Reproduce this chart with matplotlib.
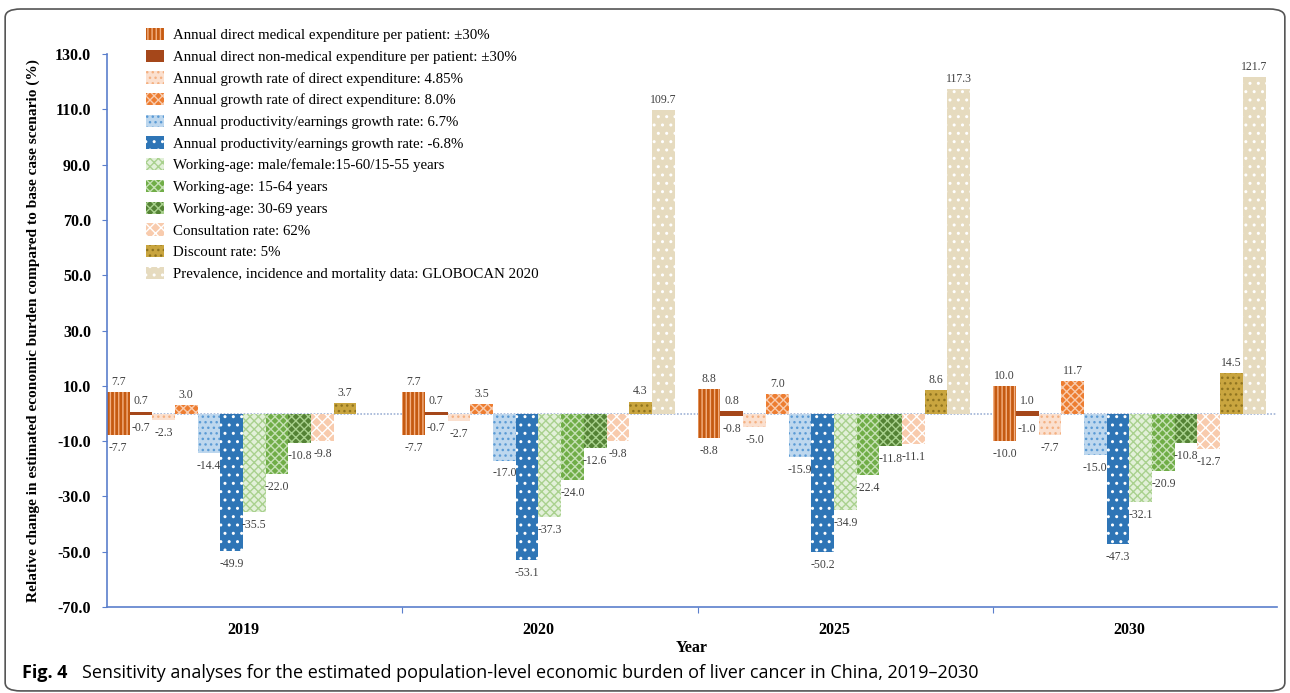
import numpy as np
import matplotlib.pyplot as plt
from matplotlib.patches import Patch, FancyBboxPatch

plt.rcParams['font.family'] = ['Liberation Serif', 'DejaVu Serif']
plt.rcParams['hatch.linewidth'] = 1.0

years = ['2019', '2020', '2025', '2030']

# +/- scenarios (drawn as paired bars at the same slot)
med_hi = [7.7, 7.7, 8.8, 10.0]
med_lo = [-7.7, -7.7, -8.8, -10.0]
nonmed_hi = [0.7, 0.7, 0.8, 1.0]
nonmed_lo = [-0.7, -0.7, -0.8, -1.0]
# single scenarios
growth_485 = [-2.3, -2.7, -5.0, -7.7]
growth_80 = [3.0, 3.5, 7.0, 11.7]
prod_67 = [-14.4, -17.0, -15.9, -15.0]
prod_m68 = [-49.9, -53.1, -50.2, -47.3]
work_mf = [-35.5, -37.3, -34.9, -32.1]
work_1564 = [-22.0, -24.0, -22.4, -20.9]
work_3069 = [-10.8, -12.6, -11.8, -10.8]
consult = [-9.8, -9.8, -11.1, -12.7]
discount = [3.7, 4.3, 8.6, 14.5]
globocan = [np.nan, 109.7, 117.3, 121.7]

labels = [
    'Annual direct medical expenditure per patient: \u00b130%',
    'Annual direct non-medical expenditure per patient: \u00b130%',
    'Annual growth rate of direct expenditure: 4.85%',
    'Annual growth rate of direct expenditure: 8.0%',
    'Annual productivity/earnings growth rate: 6.7%',
    'Annual productivity/earnings growth rate: -6.8%',
    'Working-age: male/female:15-60/15-55 years',
    'Working-age: 15-64 years',
    'Working-age: 30-69 years',
    'Consultation rate: 62%',
    'Discount rate: 5%',
    'Prevalence, incidence and mortality data: GLOBOCAN 2020',
]

# (face, hatch, hatch colour)
styles = [
    ('#C55A11', '||||', '#F4B183'),
    ('#A5471A', None, '#A5471A'),
    ('#FBE0CF', '...', '#F4B183'),
    ('#ED7D31', 'xxxx', '#F8CBAD'),
    ('#BDD7EE', '...', '#5B9BD5'),
    ('#2E75B6', '..', '#FFFFFF'),
    ('#E2F0D9', 'xxxx', '#A9D18E'),
    ('#70AD47', 'xxxx', '#C5E0B4'),
    ('#548235', 'xxxx', '#A9D18E'),
    ('#F8CBAD', 'xxx', '#FFFFFF'),
    ('#C9A53F', '...', '#8F7420'),
    ('#E6DBBF', '..', '#FFFFFF'),
]

series = [
    [med_hi, med_lo],
    [nonmed_hi, nonmed_lo],
    [growth_485], [growth_80], [prod_67], [prod_m68],
    [work_mf], [work_1564], [work_3069], [consult], [discount], [globocan],
]

fig = plt.figure(figsize=(12.9, 6.93), dpi=100)
ax = fig.add_axes([0.083, 0.124, 0.907, 0.798])

x = np.arange(len(years))
n = len(series)
w = 0.0768
start = x - n * w / 2

for k, (vals_list, (fc, hatch, hc)) in enumerate(zip(series, styles)):
    pos = start + k * w + w / 2
    for vals in vals_list:
        v = np.array(vals, dtype=float)
        ax.bar(pos, v, width=w, color=fc, hatch=hatch, edgecolor=hc,
               linewidth=0, zorder=2)
        for xi, vi in zip(pos, v):
            if np.isnan(vi):
                continue
            off = 3 if vi >= 0 else -5
            ax.annotate(f'{vi:.1f}', (xi, vi), xytext=(0, off),
                        textcoords='offset points', ha='center',
                        va='bottom' if vi >= 0 else 'top',
                        fontsize=8.5, color='#404040', zorder=3)

ax.axhline(0, color='#9FB3D6', lw=1.2, ls=(0, (1, 1)), zorder=1)

ax.set_xlim(-0.46, 3.5)
ax.set_ylim(-70, 130)
yt = np.arange(-70, 131, 20)
ax.set_yticks(yt)
ax.set_yticklabels([f'{t:.1f}' for t in yt], fontsize=11.5, fontweight='bold')
# category boundaries sit at the start of each group
ax.set_xticks(start[1:])
ax.set_xticklabels([])
ax.set_xticks(x, minor=True)
ax.set_xticklabels(years, minor=True, fontsize=11.5, fontweight='bold')
ax.tick_params(axis='x', which='minor', length=0, pad=11)
ax.tick_params(axis='x', which='major', length=4, color='#5B7FCC')
ax.tick_params(axis='y', length=3.5, color='#5B7FCC', pad=8)

for s in ['top', 'right']:
    ax.spines[s].set_visible(False)
for s in ['left', 'bottom']:
    ax.spines[s].set_color('#5B7FCC')
    ax.spines[s].set_linewidth(1.2)

ax.set_ylabel('Relative change in estimated economic burden compared to base case scenario (%)',
              fontsize=11.1, fontweight='bold')
ax.yaxis.set_label_coords(-0.0573, 0.5)
ax.set_xlabel('Year', fontsize=11.5, fontweight='bold', labelpad=1)

handles = [Patch(facecolor=fc, hatch=h, edgecolor=hc, linewidth=0)
           for fc, h, hc in styles]
fig.legend(handles, labels, loc='upper left', bbox_to_anchor=(0.1075, 0.9706),
           frameon=False, fontsize=10.7, handlelength=1.2, handleheight=0.9,
           handletextpad=0.6, labelspacing=0.5, borderpad=0)

# panel frame and caption
fig.patches.append(FancyBboxPatch((0.004, 0.003), 0.992, 0.984,
                                  boxstyle='round,pad=0,rounding_size=0.012',
                                  transform=fig.transFigure, fill=False,
                                  edgecolor='#555555', lw=1.2))
fig.text(0.017, 0.029, 'Fig. 4', fontsize=13, fontweight='bold',
         family='Open Sans', va='center')
fig.text(0.0636, 0.029,
         'Sensitivity analyses for the estimated population-level economic burden of liver cancer in China, 2019\u20132030',
         fontsize=13, family='Open Sans', va='center')

fig.savefig('out.png', dpi=100)
